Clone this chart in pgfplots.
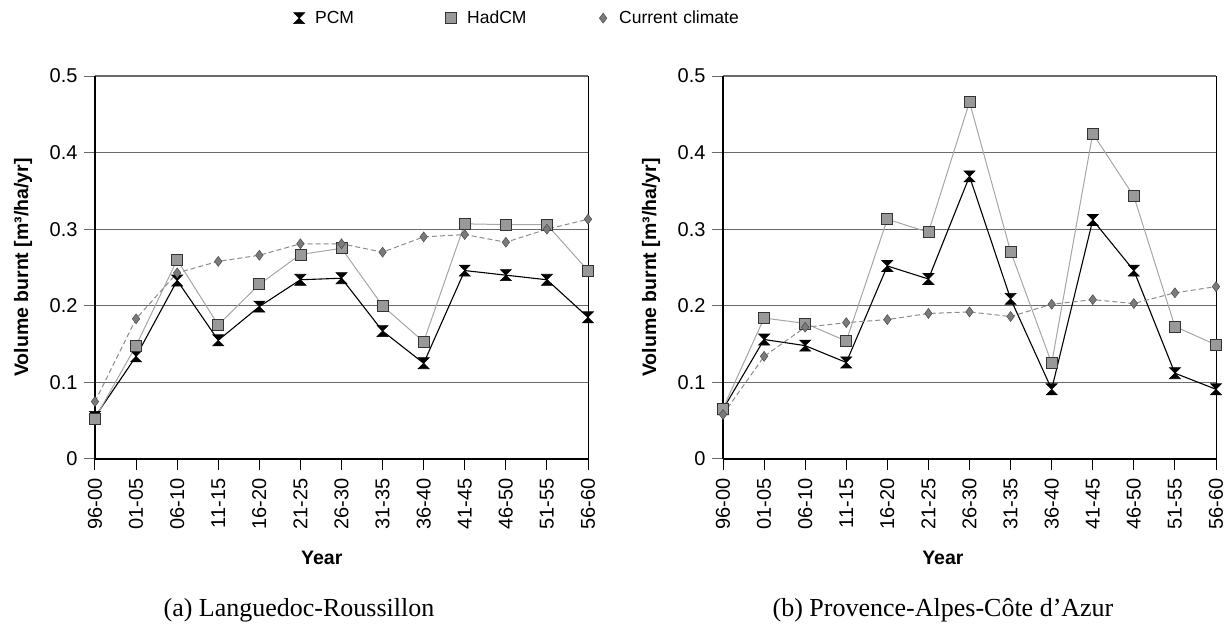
\documentclass[border=0pt]{standalone}
\usepackage{pgfplots}
\pgfplotsset{compat=1.18}
\usepackage{fontspec}
\setmainfont{Liberation Sans}
\newfontfamily\capfont{Liberation Serif}
\definecolor{gridc}{HTML}{6A6A6A}
\definecolor{hadfill}{HTML}{999999}
\definecolor{hadline}{HTML}{A6A6A6}
\definecolor{curfill}{HTML}{7A7A7A}
\definecolor{curline}{HTML}{8C8C8C}
\pgfdeclareplotmark{hourglass}{%
 \pgfpathmoveto{\pgfqpoint{-\pgfplotmarksize}{\pgfplotmarksize}}%
 \pgfpathlineto{\pgfqpoint{\pgfplotmarksize}{\pgfplotmarksize}}%
 \pgfpathlineto{\pgfqpoint{-\pgfplotmarksize}{-\pgfplotmarksize}}%
 \pgfpathlineto{\pgfqpoint{\pgfplotmarksize}{-\pgfplotmarksize}}%
 \pgfpathclose
 \pgfusepathqfillstroke}
\pgfplotstableread{
x PCM HadCM Cur
0 0.055 0.053 0.075
1 0.134 0.148 0.183
2 0.233 0.260 0.243
3 0.155 0.175 0.258
4 0.199 0.228 0.266
5 0.234 0.267 0.281
6 0.236 0.275 0.281
7 0.167 0.200 0.270
8 0.125 0.153 0.290
9 0.246 0.307 0.293
10 0.240 0.306 0.283
11 0.234 0.306 0.300
12 0.185 0.246 0.313
}\tableLR
\pgfplotstableread{
x PCM HadCM Cur
0 0.065 0.066 0.058
1 0.156 0.184 0.134
2 0.148 0.177 0.172
3 0.126 0.154 0.178
4 0.252 0.313 0.182
5 0.235 0.296 0.190
6 0.369 0.466 0.192
7 0.209 0.271 0.186
8 0.091 0.125 0.202
9 0.312 0.425 0.208
10 0.246 0.343 0.203
11 0.112 0.173 0.217
12 0.091 0.149 0.225
}\tablePACA
\pgfplotsset{
 panel/.style={
  scale only axis, width=493pt, height=383pt,
  xmin=0, xmax=12, ymin=0, ymax=0.5,
  clip=false,
  axis x line*=bottom, axis y line*=left,
  axis line style={-, black, line width=1.1pt},
  xtick={0,...,12},
  xticklabels={96-00,01-05,06-10,11-15,16-20,21-25,26-30,31-35,36-40,41-45,46-50,51-55,56-60},
  ytick={0,0.1,0.2,0.3,0.4,0.5},
  yticklabel style={/pgf/number format/fixed, /pgf/number format/precision=1},
  /pgf/number format/assume math mode=true,
  tick label style={font=\fontsize{20}{24}\selectfont},
  xticklabel style={rotate=90, anchor=east},
  xticklabel shift=5pt, yticklabel shift=3pt,
  tick align=outside, major tick length=11pt,
  xtick style={black, line width=1pt},
  ytick style={gridc, line width=1pt},
  ymajorgrids, grid style={gridc, line width=1.1pt},
  label style={font=\fontsize{19.5}{23}\selectfont\bfseries},
  ylabel={Volume burnt [m³/ha/yr]},
  xlabel={Year},
  legend image code/.code={\path[draw=none, fill=none] (-6pt,-1pt) rectangle (14pt,1pt); \draw[#1, only marks] plot coordinates {(0pt,0pt)};},
 },
 pcm/.style={black, line width=1.1pt, mark=hourglass, mark size=5.5pt, mark options={solid, fill=black, line width=0.6pt}},
 had/.style={hadline, line width=1pt, mark=square*, mark size=5.5pt, mark options={solid, fill=hadfill, draw=black!80, line width=0.8pt}},
 cur/.style={curline, line width=1pt, dash pattern=on 5pt off 3pt, mark=diamond*, mark size=5pt, mark options={solid, fill=curfill, draw=black!70, line width=0.5pt}},
}
\begin{document}
\begin{tikzpicture}
\useasboundingbox (0pt,0pt) rectangle (1232pt,635pt);
\begin{axis}[panel, at={(95pt,176pt)}, anchor=south west,
  ylabel style={at={(axis description cs:-0.146,0.5)}, anchor=center},
  xlabel style={at={(axis description cs:0.46,-0.232)}, anchor=north},
  legend columns=3,
  legend style={at={(axis description cs:0.3955,1.151)}, anchor=west, draw=none, fill=none,
    font=\fontsize{17.5}{21}\selectfont,
    nodes={text width=128pt, align=left}},
  legend cell align=left,
]
\addplot[pcm] table[x=x,y=PCM]{\tableLR};
\addplot[had] table[x=x,y=HadCM]{\tableLR};
\addplot[cur] table[x=x,y=Cur]{\tableLR};
\legend{PCM,HadCM,Current climate}
\draw[black, line width=1pt] (rel axis cs:1,0) -- (rel axis cs:1,1);
\end{axis}
\begin{axis}[panel, at={(723pt,176pt)}, anchor=south west,
  ylabel style={at={(axis description cs:-0.146,0.5)}, anchor=center},
  xlabel style={at={(axis description cs:0.446,-0.232)}, anchor=north},
]
\addplot[pcm] table[x=x,y=PCM]{\tablePACA};
\addplot[had] table[x=x,y=HadCM]{\tablePACA};
\addplot[cur] table[x=x,y=Cur]{\tablePACA};
\draw[black, line width=1pt] (rel axis cs:1,0) -- (rel axis cs:1,1);
\end{axis}
\node[font=\capfont\fontsize{26}{30}\selectfont] at (299pt,25pt) {(a) Languedoc-Roussillon};
\node[font=\capfont\fontsize{26}{30}\selectfont] at (943pt,25pt) {(b) Provence-Alpes-Côte d’Azur};
\end{tikzpicture}
\end{document}
